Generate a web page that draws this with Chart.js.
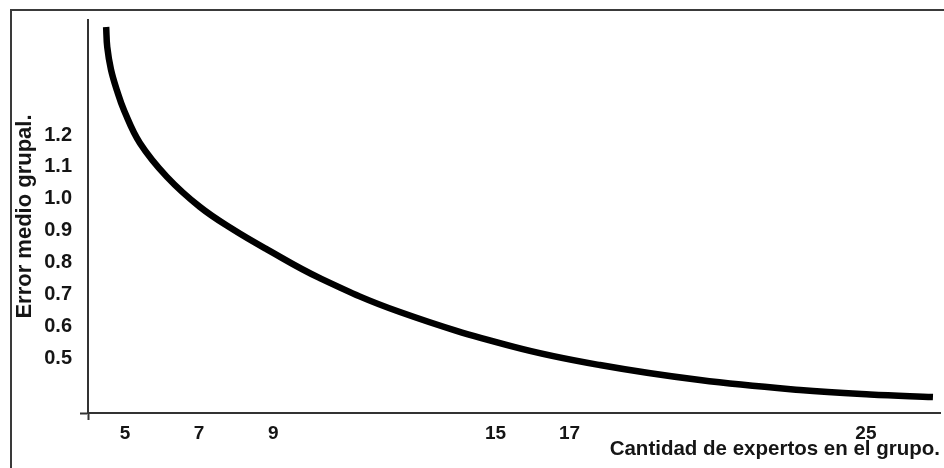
<!DOCTYPE html>
<html>
<head>
<meta charset="utf-8">
<script src="https://cdn.jsdelivr.net/npm/chart.js@4/dist/chart.umd.min.js"></script>
<style>
  html, body { margin: 0; padding: 0; background: #ffffff; }
  #wrap { position: relative; width: 944px; height: 468px; overflow: hidden; }
  #frame { position: absolute; left: 10px; top: 9px; width: 1000px; height: 1000px;
           border-top: 2px solid #3a3a3a; border-left: 2px solid #3a3a3a; box-sizing: border-box; }
  canvas { position: absolute; left: 0; top: 0; }
</style>
</head>
<body>
<div id="wrap">
  <div id="frame"></div>
  <canvas id="c" width="944" height="468"></canvas>
</div>
<script>
// Data
const expertos   = [4.49, 4.52, 4.62, 4.78, 4.98, 5.40, 6.13, 7.02, 7.92, 8.83, 10.26, 12.42, 15.50, 17.82, 20.52, 23.22, 25.11, 26.81];
const errorMedio = [1.538, 1.475, 1.405, 1.340, 1.275, 1.175, 1.069, 0.975, 0.904, 0.842, 0.752, 0.646, 0.537, 0.480, 0.433, 0.402, 0.388, 0.380];
const xTickValues = [5, 7, 9, 15, 17, 25];
const yTickValues = [0.5, 0.6, 0.7, 0.8, 0.9, 1.0, 1.1, 1.2];
const xTitle = 'Cantidad de expertos en el grupo.';
const yTitle = 'Error medio grupal.';

const X_MIN = 4, X_MAX = 27, Y_MIN = 0.33, Y_MAX = 1.56;
const FONT = "'Liberation Sans', Arial, sans-serif";
const AXIS = '#333333';
const TEXT = '#151515';

const points = expertos.map((x, i) => ({ x: x, y: errorMedio[i] }));

new Chart(document.getElementById('c'), {
  type: 'line',
  data: {
    datasets: [{
      data: points,
      borderColor: '#000000',
      borderWidth: 6.5,
      borderCapStyle: 'butt',
      borderJoinStyle: 'round',
      pointRadius: 0,
      fill: false,
      tension: 0.4
    }]
  },
  options: {
    responsive: false,
    animation: false,
    devicePixelRatio: 1,
    layout: { padding: { left: 0, top: 20, right: 4, bottom: 0 } },
    plugins: { legend: { display: false }, tooltip: { enabled: false } },
    scales: {
      x: {
        type: 'linear',
        min: X_MIN, max: X_MAX,
        afterBuildTicks: (s) => { s.ticks = [X_MIN].concat(xTickValues).map(v => ({ value: v })); },
        afterFit: (s) => { s.height = 55; },
        border: { display: true, color: AXIS, width: 2 },
        grid: {
          drawOnChartArea: false, drawTicks: true, tickLength: 7,
          color: 'rgba(0,0,0,0)',
          tickColor: (ctx) => (ctx.tick && ctx.tick.value === X_MIN) ? AXIS : 'rgba(0,0,0,0)',
          tickWidth: 2
        },
        ticks: {
          autoSkip: false, maxRotation: 0, padding: 2, color: TEXT,
          font: { family: FONT, size: 19, weight: 'bold' },
          callback: (v) => v === X_MIN ? '' : String(v)
        },
        title: {
          display: true, text: xTitle, align: 'end', color: TEXT,
          font: { family: FONT, size: 20.5, weight: 'bold' },
          padding: { top: 0, bottom: 6 }
        }
      },
      y: {
        type: 'linear',
        min: Y_MIN, max: Y_MAX,
        afterBuildTicks: (s) => { s.ticks = [Y_MIN].concat(yTickValues).map(v => ({ value: v })); },
        afterFit: (s) => { s.width = 88; },
        border: { display: true, color: AXIS, width: 2 },
        grid: {
          drawOnChartArea: false, drawTicks: true, tickLength: 8,
          color: 'rgba(0,0,0,0)',
          tickColor: (ctx) => (ctx.tick && ctx.tick.value === Y_MIN) ? AXIS : 'rgba(0,0,0,0)',
          tickWidth: 2
        },
        ticks: {
          autoSkip: false, padding: 8, color: TEXT,
          font: { family: FONT, size: 20, weight: 'bold' },
          callback: (v) => v === Y_MIN ? '' : Number(v).toFixed(1)
        },
        title: {
          display: true, text: yTitle, color: TEXT,
          font: { family: FONT, size: 22, weight: 'bold' },
          padding: { top: 12, bottom: 0 }
        }
      }
    }
  }
});
</script>
</body>
</html>
